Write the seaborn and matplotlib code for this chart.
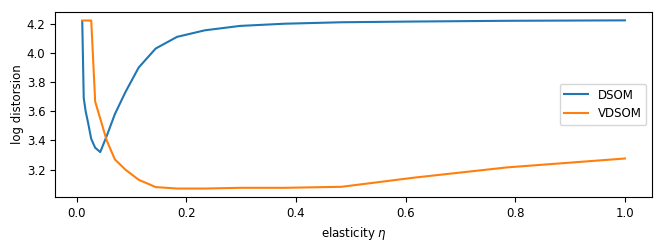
import matplotlib
matplotlib.use("Agg")
import matplotlib.pyplot as plt
from matplotlib.ticker import MultipleLocator, FormatStrFormatter
import seaborn as sns

eta = [0.01, 0.0127, 0.0162, 0.0207, 0.0264, 0.0336, 0.0428, 0.0546, 0.0695,
       0.0886, 0.113, 0.144, 0.183, 0.234, 0.298, 0.379, 0.483, 0.616, 0.785, 1.0]
dsom = [4.218, 3.69, 3.60, 3.52, 3.41, 3.35, 3.32, 3.43, 3.58, 3.73,
        3.90, 4.03, 4.11, 4.155, 4.185, 4.20, 4.21, 4.215, 4.22, 4.223]
vdsom = [4.222, 4.222, 4.222, 4.222, 4.222, 3.666, 3.55, 3.40, 3.27, 3.20,
         3.13, 3.08, 3.07, 3.07, 3.075, 3.075, 3.082, 3.145, 3.215, 3.276]

plt.rcParams["font.size"] = 8.5

fig = plt.figure(figsize=(6.64, 2.49), dpi=100)
ax = fig.add_axes([0.083, 0.209, 0.899, 0.743])

sns.lineplot(x=eta, y=dsom, label="DSOM", color="tab:blue", ax=ax)
sns.lineplot(x=eta, y=vdsom, label="VDSOM", color="tab:orange", ax=ax)

ax.yaxis.set_major_locator(MultipleLocator(0.2))
ax.yaxis.set_major_formatter(FormatStrFormatter("%.1f"))
ax.set_xlabel(r"elasticity $\eta$")
ax.set_ylabel("log distorsion", labelpad=2)
ax.legend(loc="center right")

fig.savefig("out.png", dpi=100)
